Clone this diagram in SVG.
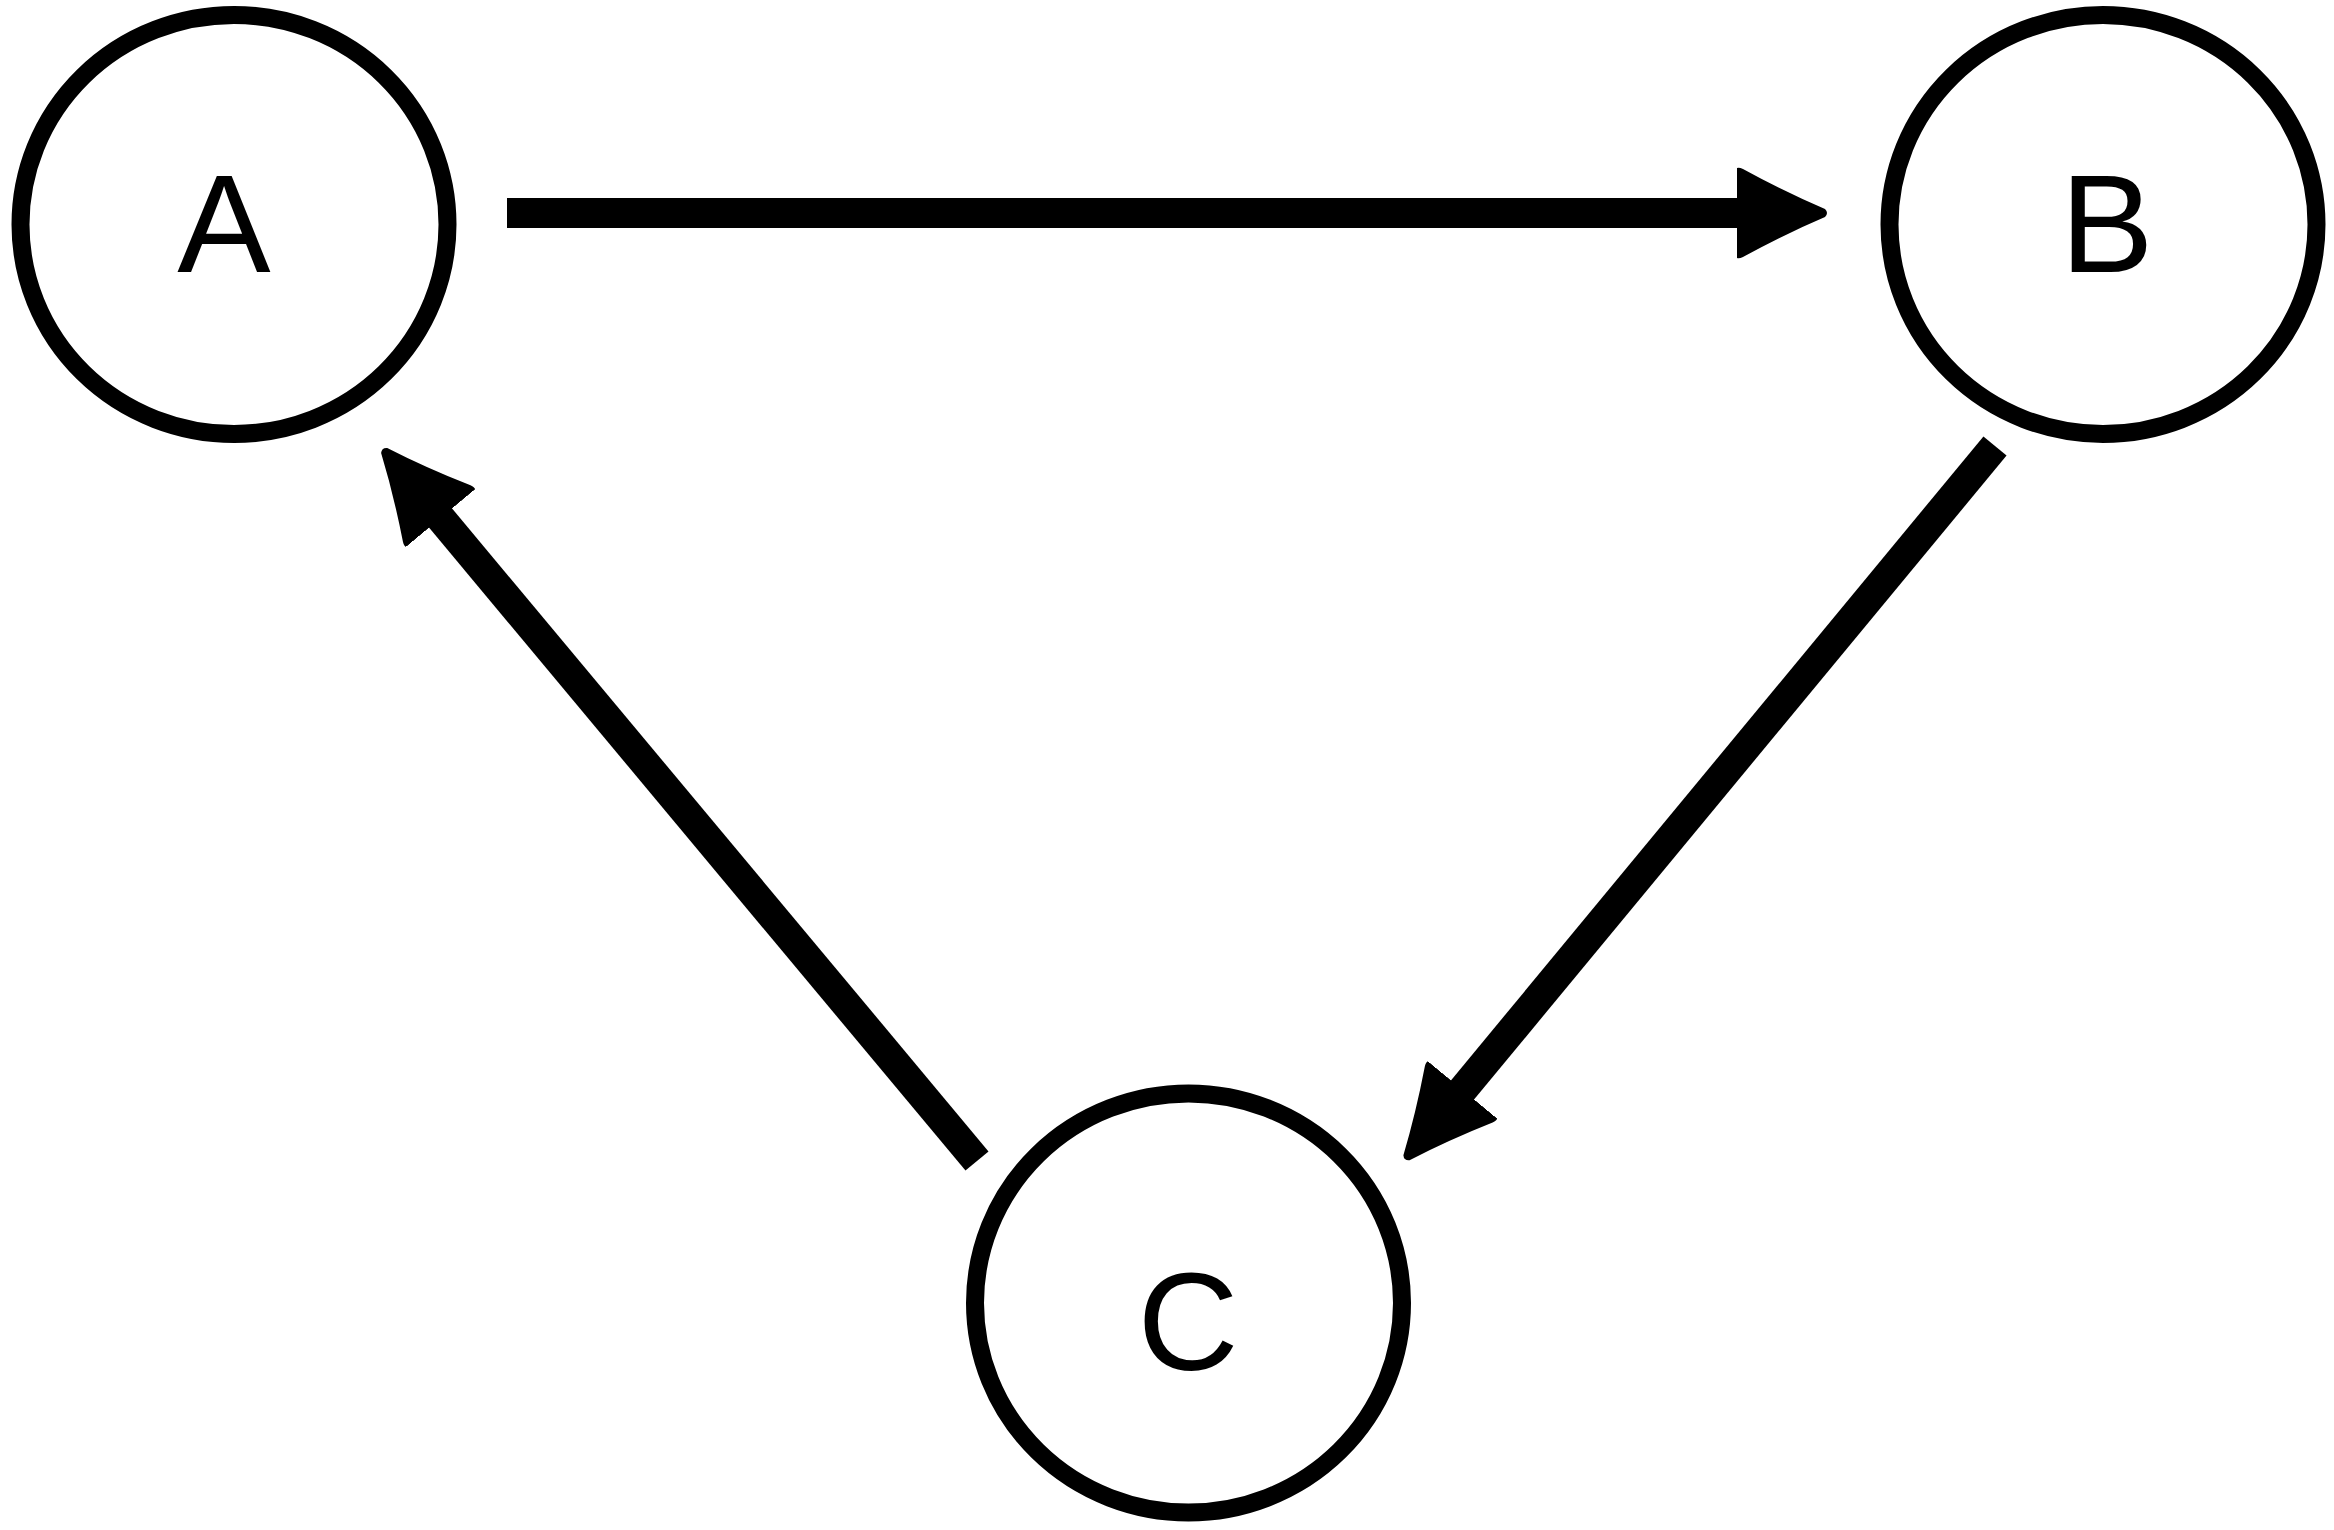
<svg xmlns="http://www.w3.org/2000/svg" width="2334" height="1530" viewBox="0 0 2334 1530">
<style>
.node{fill:#fff;stroke:#000;stroke-width:18}
.lbl{font-family:"Liberation Sans",Arial,sans-serif;font-size:140px;fill:#000;text-anchor:middle}
.edge{stroke:#000;stroke-width:30;fill:none;stroke-linecap:butt}
</style>
<defs>
<marker id="ah" markerUnits="userSpaceOnUse" markerWidth="100" markerHeight="100" viewBox="0 -50 100 100" refX="4" refY="0" orient="auto">
<path d="M0,-45 Q2,-46 6,-44 Q48,-21 88,-4 Q92,0 88,4 Q48,21 6,44 Q2,46 0,45 Z" fill="#000"/>
</marker>
</defs>
<rect width="2334" height="1530" fill="#fff"/>
<g id="connectors">
<line class="edge" x1="507" y1="213" x2="1741" y2="213" marker-end="url(#ah)"/>
<line class="edge" x1="1995" y1="446" x2="1460" y2="1093" marker-end="url(#ah)"/>
<line class="edge" x1="977" y1="1161" x2="438" y2="515" marker-end="url(#ah)"/>
</g>
<g id="node-A">
<ellipse class="node" cx="234" cy="224.5" rx="213.5" ry="209.5"/>
<text class="lbl" x="224" y="272">A</text>
</g>
<g id="node-B">
<ellipse class="node" cx="2103" cy="224.5" rx="213.5" ry="209.5"/>
<text class="lbl" x="2107" y="272">B</text>
</g>
<g id="node-C">
<ellipse class="node" cx="1188.5" cy="1303" rx="213.5" ry="209.5"/>
<text class="lbl" x="1188" y="1370">C</text>
</g>
</svg>
